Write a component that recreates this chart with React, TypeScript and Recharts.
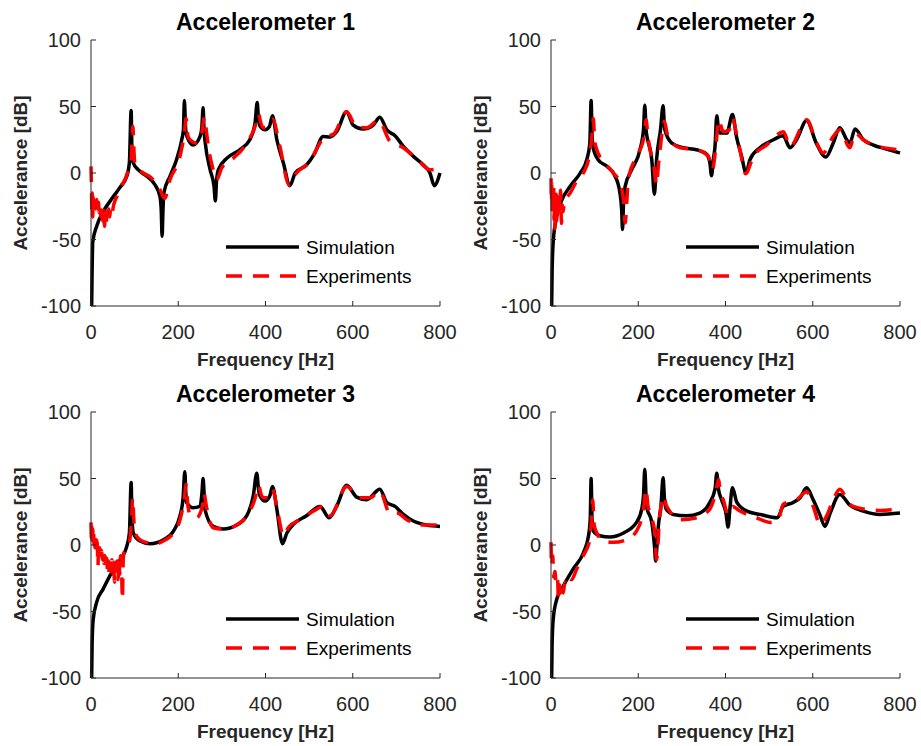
import React from "react";
import { LineChart, Line, XAxis, YAxis, Legend, Customized } from "recharts";

// frequency [Hz], acceleration [dB]
const sim1 = [
  [1.5, -100], [2.5, -75], [4, -52], [13, -40], [28, -29], [44, -21], [66, -11], [82, -2.5], [88, 8], [92, 47],
  [94, 15], [97, 7.5], [108, 2.5], [128, -2.5], [147, -9], [158, -17.5], [161, -28], [163, -47.5], [165, -28],
  [167, -15], [181, -2.5], [196, 10], [208, 25], [212, 33], [214, 54.5], [217, 33], [220, 27.5], [234, 21],
  [250, 27.5], [254, 34], [257, 49], [259, 33], [262, 22.5], [273, 2.5], [282, -10], [285, -21], [288, -5],
  [292, 2.5], [311, 11], [341, 17.5], [364, 25], [376, 37.5], [381, 53], [384, 40], [388, 35], [399, 32.5],
  [409, 35], [416, 43], [426, 25], [441, 7.5], [456, -9.5], [468, 0], [494, 6], [513, 15], [532, 27.5],
  [548, 27], [563, 31], [586, 46], [601, 36], [624, 33], [647, 36], [662, 42], [678, 32.5], [697, 28],
  [716, 20], [739, 12.5], [762, 6], [777, 0], [787, -9.5], [800, 0],
];
const exp1 = [
  [0, 5], [1, -10], [2, -30], [3, -15], [4, -33], [5, -18], [7, -25], [9, -19], [11, -27], [13, -20], [15, -28],
  [17, -22], [19, -30], [21, -24], [23, -33], [25, -26], [27, -36], [29, -28], [31, -40], [33, -30], [35, -37],
  [37, -29], [39, -35], [41, -27], [43, -33], [45, -26], [48, -30], [52, -24], [56, -20], [62, -16], [68, -10],
  [74, -7.5], [86, 2.5], [92, 10], [96, 35], [98, 20], [101, 5], [120, 0],
  [139, -4], [158, -12.5], [169, -19], [181, -5], [204, 12.5], [214, 30], [218, 41], [222, 28], [227, 25],
  [242, 22.5], [254, 30], [260, 42], [265, 30], [269, 20], [280, 2.5], [288, -5], [300, 4], [326, 11],
  [357, 22.5], [376, 35], [384, 44.5], [389, 38], [395, 34], [406, 35], [416, 40.5], [433, 20], [454, -9],
  [471, 0], [502, 9], [525, 22.5], [536, 27.5], [555, 29], [586, 46], [609, 34.5], [632, 34], [659, 39.5],
  [685, 24], [716, 19], [746, 11], [777, 2.5], [793, 3],
];
const sim2 = [
  [1.5, -100], [2.5, -75], [5, -52], [13, -32.5], [24, -21], [44, -10], [67, 0], [82, 10], [89, 22.5],
  [92, 54.5], [94, 30], [96, 20], [108, 10], [128, 5], [147, -2.5], [158, -15], [162, -28], [164, -42.5],
  [166, -25], [170, -10], [185, 2.5], [204, 17.5], [212, 32.5], [215, 51], [218, 32], [220, 27.5], [231, 10],
  [237, -16], [242, 10], [251, 32.5], [257, 50.5], [260, 35], [261, 32.5], [277, 22.5], [303, 19], [334, 17.5],
  [357, 14], [364, 8], [368, -2], [372, 10], [376, 20], [380, 43], [384, 33], [387, 30], [403, 30], [416, 44],
  [425, 27.5], [437, 12.5], [447, 0], [456, 10], [479, 19], [510, 25], [532, 28], [548, 19], [563, 25],
  [586, 39.5], [608, 22.5], [630, 12], [647, 22.5], [662, 34], [678, 25], [685, 22.5], [697, 33], [716, 25],
  [739, 21], [769, 18], [800, 15],
];
const exp2 = [
  [0, -4], [1, -22], [2, -8], [3, -30], [4, -12], [5, -25], [6, -10], [7, -35], [8, -18], [9, -42], [10, -22],
  [11, -30], [12, -16], [13, -36], [14, -20], [15, -33], [16, -18], [17, -30], [18, -14], [20, -28], [22, -13],
  [24, -38], [26, -24], [28, -29], [31, -20], [34, -19], [44, -15], [59, -6], [74, 0], [86, 10], [93, 25],
  [97, 41], [100, 25], [105, 17.5], [124, 7.5],
  [143, 0], [158, -7.5], [166, -20], [170, -37.5], [174, -20], [177, -5], [196, 12.5], [212, 25], [218, 40],
  [222, 28], [227, 17.5], [235, 7.5], [242, -9], [246, 5], [250, 17.5], [260, 39], [266, 30], [273, 25],
  [296, 19], [334, 17.5], [361, 12.5], [370, 2.5], [378, 20], [384, 40], [395, 31], [409, 32.5], [416, 41],
  [426, 28], [433, 17.5], [446, -0.5], [464, 12.5], [494, 21], [533, 31], [548, 20], [586, 40], [609, 22.5],
  [624, 15], [647, 27.5], [662, 32.5], [685, 19], [697, 30], [716, 25], [739, 21], [800, 17.5],
];
const sim3 = [
  [1.5, -100], [2.5, -75], [5, -56], [13, -43], [28, -33], [47, -21], [67, -11], [82, -1], [88, 9], [92, 47],
  [94, 20], [97, 9], [112, 3], [135, 1], [166, 4], [189, 10.5], [204, 22], [211, 35], [215, 55], [218, 35],
  [219, 32], [234, 28], [250, 29], [254, 38], [257, 50], [260, 33], [261, 27], [280, 14], [303, 12], [334, 15],
  [357, 22], [372, 37], [380, 54], [384, 42], [387, 37], [399, 33], [410, 37], [416, 44], [426, 27], [439, 1],
  [449, 9], [464, 15.5], [494, 22], [525, 29], [546, 20.5], [563, 29], [586, 45], [609, 36], [632, 34],
  [662, 42], [678, 32], [697, 29], [716, 23], [739, 18], [769, 15], [800, 14],
];
const exp3 = [
  [0, 17], [1, 5], [2, 14], [3, 2], [4, 12], [5, 3], [6, 10], [7, 0], [8, 8], [9, -2], [10, 6], [11, -1],
  [12, 4], [13, -4], [14, 3], [15, -6], [16, -16], [17, -3], [18, 0], [19, -8], [20, -2], [22, -9], [24, -4],
  [26, -11], [28, -6], [30, -14], [32, -8], [34, -18], [36, -10], [38, -21], [40, -12], [42, -24], [44, -14],
  [46, -20], [48, -11], [50, -22], [52, -15], [54, -28], [56, -13], [58, -24], [60, -12], [62, -26], [64, -10],
  [66, -22], [68, -8], [70, -18], [72, -41], [74, -10], [77, -4], [82, -1], [89, 4], [93, 20], [95.5, 35.5],
  [98, 20], [101, 9], [112, 4], [128, 1.75], [143, 0.5],
  [166, 3], [189, 9], [204, 19], [214, 35], [218, 45.5], [222, 30], [227, 23], [242, 20.5], [256, 30],
  [259, 39], [264, 30], [269, 22], [280, 13], [303, 12], [334, 15], [357, 22], [376, 35], [384, 45], [390, 38],
  [395, 35.5], [406, 35.5], [416, 42], [429, 23], [441, 7], [452, 13], [479, 19], [510, 25.5], [532, 29],
  [548, 22], [586, 44], [616, 35.5], [640, 35.5], [662, 40.5], [685, 24], [701, 24], [724, 19], [754, 15],
  [796, 15],
];
const sim4 = [
  [1.5, -100], [2.5, -75], [5, -56], [13, -41], [28, -31], [51, -18], [74, -6], [86, 7], [90, 20], [92, 50],
  [94, 20], [97, 10.5], [112, 7], [135, 6], [166, 9], [196, 17], [208, 27], [212, 37], [215, 57], [218, 35],
  [219, 29], [231, 17], [237, 0], [240, -12], [243, 0], [246, 14], [252, 29], [257, 50.5], [260, 35], [264, 27],
  [280, 23], [311, 22], [341, 24], [364, 32], [376, 42], [380, 54], [384, 42], [391, 34], [401, 24], [406, 13.5],
  [410, 27], [416, 43], [426, 32], [449, 25.5], [479, 23], [519, 20.5], [532, 29], [555, 32], [571, 35.5],
  [586, 43], [601, 34], [616, 23], [628, 14], [640, 24], [662, 38], [685, 30], [716, 25.5], [754, 23],
  [800, 24],
];
const exp4 = [
  [0, 2], [1.5, -16], [4, -8], [6, -24], [9, -20], [12, -30], [15, -26], [17, -40], [20, -30], [22, -36],
  [25, -29], [28, -36], [32, -28], [36, -30], [41, -25], [47, -26], [59, -18], [74, -8],
  [89, 4], [93, 20], [95.5, 34], [99, 15], [105, 9], [120, 3], [143, 2], [173, 4], [196, 10.5], [212, 27],
  [218, 42], [222, 30], [227, 24], [238, 9], [242, -11], [246, 5], [248, 17], [259, 37], [264, 30], [269, 27],
  [296, 19], [334, 20.5], [364, 27], [378, 40], [384, 49], [388, 40], [395, 34], [406, 23], [416, 29],
  [433, 25.5], [471, 20.5], [502, 17], [521, 19], [532, 30.5], [563, 34], [586, 40], [601, 29], [617, 15.5],
  [632, 22], [647, 34], [662, 42], [685, 30.5], [716, 27], [754, 26], [800, 27],
];

const titles = ["Accelerometer 1", "Accelerometer 2", "Accelerometer 3", "Accelerometer 4"];
const seriesNames = ["Simulation", "Experiments"];
const freqTicks = [0, 200, 400, 600, 800];
const dbTicks = [-100, -50, 0, 50, 100];

const FONT = '"Liberation Sans", Arial, Helvetica, sans-serif';
const AXIS = "#262626";
const W = 460;
const H = 372;
const PLOT_L = 91;
const PLOT_R = 440;
const PLOT_T = 40;
const PLOT_B = 306;

const toPts = (a: number[][]) => a.map(([f, db]) => ({ f, db }));

const panels = [
  { title: titles[0], sim: toPts(sim1), exp: toPts(exp1) },
  { title: titles[1], sim: toPts(sim2), exp: toPts(exp2) },
  { title: titles[2], sim: toPts(sim3), exp: toPts(exp3) },
  { title: titles[3], sim: toPts(sim4), exp: toPts(exp4) },
];

const XTitle = ({ value }: any) => (
  <text x={(PLOT_L + PLOT_R) / 2} y={366} textAnchor="middle" fill={AXIS}
    fontFamily={FONT} fontSize={19} fontWeight="bold">{value}</text>
);

const YTitle = ({ value }: any) => {
  const cy = (PLOT_T + PLOT_B) / 2;
  return (
    <text x={20} y={cy} transform={`rotate(-90 20 ${cy})`} textAnchor="middle" dominantBaseline="central"
      fill={AXIS} fontFamily={FONT} fontSize={19} fontWeight="bold">{value}</text>
  );
};

const renderLegend = (props: any) => {
  const items = [...(props.payload || [])].sort(
    (a: any, b: any) => seriesNames.indexOf(a.value) - seriesNames.indexOf(b.value)
  );
  return (
    <svg width={200} height={60}>
      {items.map((e: any, i: number) => {
        const y = 15 + i * 29;
        return (
          <g key={e.value}>
            <line x1={6} x2={79} y1={y} y2={y} stroke={e.color} strokeWidth={3.5}
              strokeDasharray={i === 1 ? "16 11" : undefined} />
            <text x={86} y={y} dominantBaseline="central" fontFamily={FONT} fontSize={19} fill="#000">
              {e.value}
            </text>
          </g>
        );
      })}
    </svg>
  );
};

function Panel({ title, sim, exp }: any) {
  return (
    <LineChart width={W} height={H} margin={{ top: PLOT_T, right: W - PLOT_R, bottom: 6, left: 0 }}>
      <XAxis dataKey="f" type="number" domain={[0, 800]} ticks={freqTicks} height={60}
        tickSize={-5} tickMargin={24} stroke={AXIS}
        tick={{ fill: AXIS, fontSize: 20, fontFamily: FONT }}
        label={<XTitle value="Frequency [Hz]" />} />
      <YAxis type="number" domain={[-100, 100]} ticks={dbTicks} width={PLOT_L}
        tickSize={-5} tickMargin={15} stroke={AXIS}
        tick={{ fill: AXIS, fontSize: 20, fontFamily: FONT }}
        label={<YTitle value="Accelerance [dB]" />} />
      <Line data={sim} dataKey="db" name={seriesNames[0]} type="monotone" stroke="#000000"
        strokeWidth={3.5} dot={false} isAnimationActive={false} />
      <Line data={exp} dataKey="db" name={seriesNames[1]} type="monotone" stroke="#ff0000"
        strokeWidth={3.5} strokeDasharray="16 11" dot={false} isAnimationActive={false} />
      <Legend layout="horizontal" verticalAlign="middle" align="center" content={renderLegend}
        wrapperStyle={{ position: "absolute", left: 220, top: 232, width: 200, height: 60 }} />
      <Customized component={() => (
        <text x={(PLOT_L + PLOT_R) / 2} y={22} textAnchor="middle" dominantBaseline="central"
          fontFamily={FONT} fontSize={23} fontWeight="bold" fill="#000">{title}</text>
      )} />
    </LineChart>
  );
}

export default function App() {
  return (
    <div style={{ position: "absolute", left: 0, top: 0, width: 921, height: 746, background: "#fff" }}>
      {panels.map((p, i) => (
        <div key={p.title} style={{ position: "absolute", left: (i % 2) * W, top: Math.floor(i / 2) * H }}>
          <Panel {...p} />
        </div>
      ))}
    </div>
  );
}
